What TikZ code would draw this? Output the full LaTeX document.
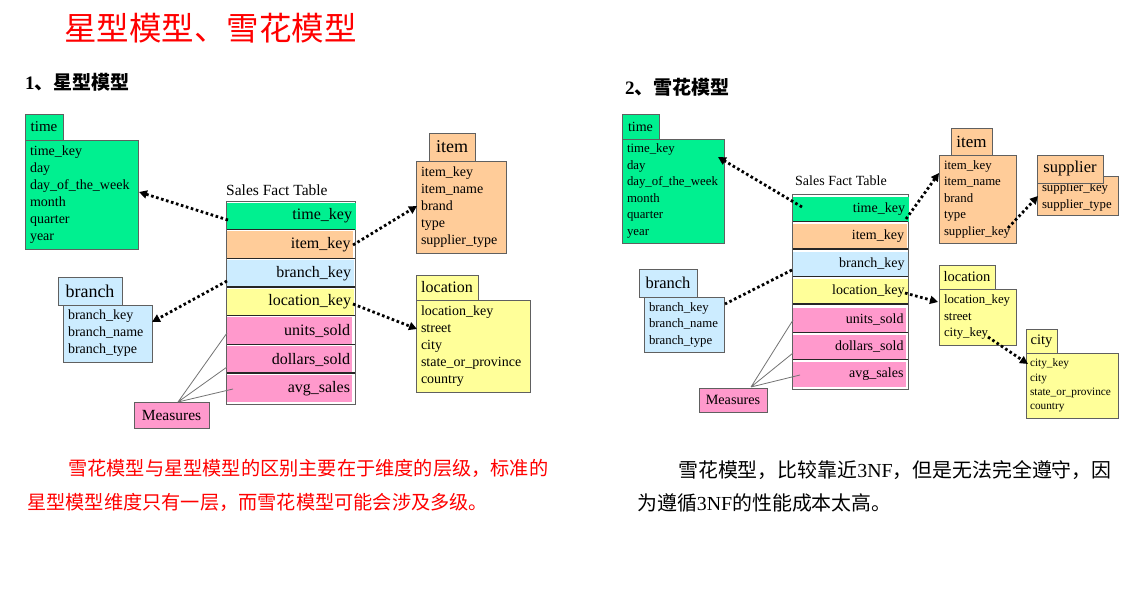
\documentclass[tikz,border=0pt]{standalone}
\usepackage{fontspec}
\setmainfont{Liberation Serif}
\newfontfamily\cjk{Noto Sans CJK SC}
\usetikzlibrary{arrows.meta}
\definecolor{cgreen}{HTML}{00F090}
\definecolor{corange}{HTML}{FFCC99}
\definecolor{cblue}{HTML}{CCECFF}
\definecolor{cyellow}{HTML}{FFFF99}
\definecolor{cpink}{HTML}{FF99CC}
\definecolor{cborder}{HTML}{606060}
\definecolor{ctitle}{HTML}{FF0000}
\tikzset{
  box/.style={draw=cborder, line width=0.9pt, anchor=north west, inner sep=0pt, outer sep=0pt},
  tabbox/.style={box, inner xsep=4pt},
  bodybox/.style={box, align=left, inner xsep=5pt},
  rowbox/.style={anchor=north west, inner sep=0pt, outer sep=0pt, align=right},
  sep/.style={draw=black!85, line width=1.3pt},
  link/.style={line width=2.8pt, dash pattern=on 2.6pt off 2.6pt, black},
  linkarrow/.style={link, -{Triangle[length=8pt,width=8pt]}},
  meas/.style={draw=black!55, line width=0.8pt},
  fL/.style={font=\fontsize{14}{17}\selectfont},
  fR/.style={font=\fontsize{12.8}{16.5}\selectfont},
}
\begin{document}
\begin{tikzpicture}[x=1pt,y=-1pt]
\useasboundingbox (0,0) rectangle (1147,591);
\fill[white] (0,0) rectangle (1147,591);

% ---------- titles ----------
\node[anchor=west, inner sep=0pt, text=ctitle, font=\cjk\fontsize{32.5}{36}\selectfont] (title) at (64,28) {星型模型、雪花模型};
\node[anchor=west, inner sep=0pt, font=\fontsize{19}{21}\selectfont] (h1) at (25,82) {\bfseries 1{\cjk\bfseries 、星型模型}};
\node[anchor=west, inner sep=0pt, font=\fontsize{19}{21}\selectfont] (h2) at (625,87) {\bfseries 2{\cjk\bfseries 、雪花模型}};

% =============== LEFT: star schema ===============
% time
\node[bodybox, fill=cgreen, fL, minimum width=113, minimum height=109, text width=103] (Ltime) at (25,140)
 {time\_key\\day\\day\_of\_the\_week\\month\\quarter\\year};
\node[tabbox, fill=cgreen, minimum width=38, minimum height=26, font=\fontsize{15}{17}\selectfont] (LtimeT) at (25,114) {time};
% item
\node[bodybox, fill=corange, fL, minimum width=90, minimum height=92, text width=80] (Litem) at (416,161)
 {item\_key\\item\_name\\brand\\type\\supplier\_type};
\node[tabbox, fill=corange, minimum width=46, minimum height=28, font=\fontsize{18}{20}\selectfont] (LitemT) at (429,133) {item};
% location
\node[bodybox, fill=cyellow, fL, minimum width=114, minimum height=92, text width=104] (Lloc) at (416,300)
 {location\_key\\street\\city\\state\_or\_province\\country};
\node[tabbox, fill=cyellow, minimum width=62, minimum height=25, font=\fontsize{16}{18}\selectfont] (LlocT) at (416,275) {location};
% branch
\node[bodybox, fill=cblue, fL, minimum width=89, minimum height=57, text width=79] (Lbranch) at (63,305)
 {branch\_key\\branch\_name\\branch\_type};
\node[tabbox, fill=cblue, minimum width=64, minimum height=28, font=\fontsize{18}{20}\selectfont] (LbranchT) at (58,277) {branch};
% measures
\node[box, fill=cpink, minimum width=75, minimum height=26, font=\fontsize{15.5}{17}\selectfont] (Lmeas) at (134,402) {Measures};

% fact table
\node[anchor=south west, inner sep=0pt, font=\fontsize{15.5}{17}\selectfont] (LfactT) at (226,196) {Sales Fact Table};
\node[box, fill=white, minimum width=129, minimum height=203] (Lfact) at (226,201) {};
\begin{scope}[every node/.style={rowbox, minimum height=27, text width=121, font=\fontsize{16}{18}\selectfont}]
\node[fill=cgreen, minimum width=129] (Lr1) at (227,202.5) {time\_key\hspace*{5pt}};
\node[fill=corange, minimum width=126] (Lr2) at (227,231.2) {item\_key};
\node[fill=cblue, minimum width=127] (Lr3) at (227,259.9) {branch\_key};
\node[fill=cyellow, minimum width=127] (Lr4) at (227,288.6) {location\_key};
\node[fill=cpink, minimum width=125] (Lr5) at (227,317.3) {units\_sold};
\node[fill=cpink, minimum width=125] (Lr6) at (227,346.0) {dollars\_sold};
\node[fill=cpink, minimum width=125] (Lr7) at (227,374.7) {avg\_sales};
\end{scope}
\foreach \r in {1,...,6} {\draw[sep] (Lr\r.south west) -- (Lfact.east |- Lr\r.south);}

% measure lines
\coordinate (Lm0) at (178,402);
\coordinate (Lm1) at (227,333);
\coordinate (Lm2) at (227,367);
\coordinate (Lm3) at (233,389);
\draw[meas] (Lm0) -- (Lm1) (Lm0) -- (Lm2) (Lm0) -- (Lm3);

% links
\coordinate (La1) at (228,220); \coordinate (La1e) at (139,192);
\coordinate (La2) at (353,245); \coordinate (La2e) at (417,206);
\coordinate (La3) at (227,281); \coordinate (La3e) at (152,322);
\coordinate (La4) at (353,304); \coordinate (La4e) at (417,329);
\draw[linkarrow] (La1) -- (La1e);
\draw[linkarrow] (La2) -- (La2e);
\draw[linkarrow] (La3) -- (La3e);
\draw[linkarrow] (La4) -- (La4e);

% =============== RIGHT: snowflake ===============
% time
\node[bodybox, fill=cgreen, fR, minimum width=102, minimum height=104, text width=92] (Rtime) at (622,139)
 {time\_key\\day\\day\_of\_the\_week\\month\\quarter\\year};
\node[tabbox, fill=cgreen, minimum width=37, minimum height=25, font=\fontsize{14}{16}\selectfont] (RtimeT) at (622,114) {time};
% item
\node[bodybox, fill=corange, fR, minimum width=77, minimum height=88, text width=67] (Ritem) at (939,155)
 {item\_key\\item\_name\\brand\\type\\supplier\_key};
\node[tabbox, fill=corange, minimum width=41, minimum height=27, font=\fontsize{17}{19}\selectfont] (RitemT) at (951,128) {item};
% supplier
\node[bodybox, fill=corange, fR, minimum width=81, minimum height=39, text width=71] (Rsup) at (1037,176)
 {\strut supplier\_key\\supplier\_type};
\node[tabbox, fill=corange, minimum width=66, minimum height=28, font=\fontsize{16.5}{18}\selectfont] (RsupT) at (1037,155) {supplier};
% location
\node[bodybox, fill=cyellow, fR, minimum width=77, minimum height=56, text width=67] (Rloc) at (939,289)
 {location\_key\\street\\city\_key};
\node[tabbox, fill=cyellow, minimum width=56, minimum height=24, font=\fontsize{14.5}{16}\selectfont] (RlocT) at (939,265) {location};
% city
\node[bodybox, fill=cyellow, font=\fontsize{11.3}{14.3}\selectfont, minimum width=92, minimum height=65, text width=84, inner xsep=4pt] (Rcity) at (1026,353)
 {city\_key\\city\\state\_or\_province\\country};
\node[tabbox, fill=cyellow, minimum width=31, minimum height=24, font=\fontsize{14.5}{16}\selectfont] (RcityT) at (1026,329) {city};
% branch
\node[bodybox, fill=cblue, fR, minimum width=80, minimum height=55, text width=70] (Rbranch) at (644,297)
 {branch\_key\\branch\_name\\branch\_type};
\node[tabbox, fill=cblue, minimum width=58, minimum height=28, font=\fontsize{16.5}{18}\selectfont] (RbranchT) at (639,269) {branch};
% measures
\node[box, fill=cpink, minimum width=68, minimum height=24, font=\fontsize{14.2}{16}\selectfont] (Rmeas) at (699,388) {Measures};

% fact table
\node[anchor=south west, inner sep=0pt, font=\fontsize{14}{16}\selectfont] (RfactT) at (795,186) {Sales Fact Table};
\node[box, fill=white, minimum width=116, minimum height=195] (Rfact) at (792,194) {};
\begin{scope}[every node/.style={rowbox, minimum height=25, text width=108, font=\fontsize{14}{16}\selectfont}]
\node[fill=cgreen, minimum width=116] (Rr1) at (793,196.5) {time\_key\hspace*{7pt}};
\node[fill=corange, minimum width=114] (Rr2) at (793,224.0) {item\_key};
\node[fill=cblue, minimum width=115] (Rr3) at (793,251.5) {branch\_key};
\node[fill=cyellow, minimum width=115] (Rr4) at (793,279.0) {location\_key};
\node[fill=cpink, minimum width=113] (Rr5) at (793,307.5) {units\_sold};
\node[fill=cpink, minimum width=113] (Rr6) at (793,334.5) {dollars\_sold};
\node[fill=cpink, minimum width=113] (Rr7) at (793,361.5) {avg\_sales};
\end{scope}
\foreach \r in {1,...,6} {\draw[sep] (Rr\r.south west) -- (Rfact.east |- Rr\r.south);}

% measure lines
\coordinate (Rm0) at (751,387);
\coordinate (Rm1) at (793,320);
\coordinate (Rm2) at (793,353);
\coordinate (Rm3) at (800,375);
\draw[meas] (Rm0) -- (Rm1) (Rm0) -- (Rm2) (Rm0) -- (Rm3);

% links
\coordinate (Ra1) at (802,207); \coordinate (Ra1e) at (718,157);
\coordinate (Ra2) at (906,219); \coordinate (Ra2e) at (939,173);
\coordinate (Ra3) at (792,270); \coordinate (Ra3e) at (725,304);
\coordinate (Ra4) at (905,293); \coordinate (Ra4e) at (938,302);
\coordinate (Ra5) at (1008,228); \coordinate (Ra5e) at (1038,196);
\coordinate (Ra6) at (988,337); \coordinate (Ra6e) at (1028,364);
\draw[linkarrow] (Ra1) -- (Ra1e);
\draw[linkarrow] (Ra2) -- (Ra2e);
\draw[link] (Ra3) -- (Ra3e);
\draw[linkarrow] (Ra4) -- (Ra4e);
\draw[linkarrow] (Ra5) -- (Ra5e);
\draw[linkarrow] (Ra6) -- (Ra6e);

% ---------- bottom texts ----------
\node[anchor=west, inner sep=0pt, text=ctitle, font=\cjk\fontsize{19.2}{22}\selectfont] (t1) at (68,468) {雪花模型与星型模型的区别主要在于维度的层级，标准的};
\node[anchor=west, inner sep=0pt, text=ctitle, font=\cjk\fontsize{19.2}{22}\selectfont] (t2) at (27,502) {星型模型维度只有一层，而雪花模型可能会涉及多级。};
\node[anchor=west, inner sep=0pt, font=\fontsize{19.9}{22}\selectfont] (t3) at (678,470) {{\cjk 雪花模型，比较靠近}3NF{\cjk ，但是无法完全遵守，因}};
\node[anchor=west, inner sep=0pt, font=\fontsize{19.9}{22}\selectfont] (t4) at (637,503) {{\cjk 为遵循}3NF{\cjk 的性能成本太高。}};
\end{tikzpicture}
\end{document}
